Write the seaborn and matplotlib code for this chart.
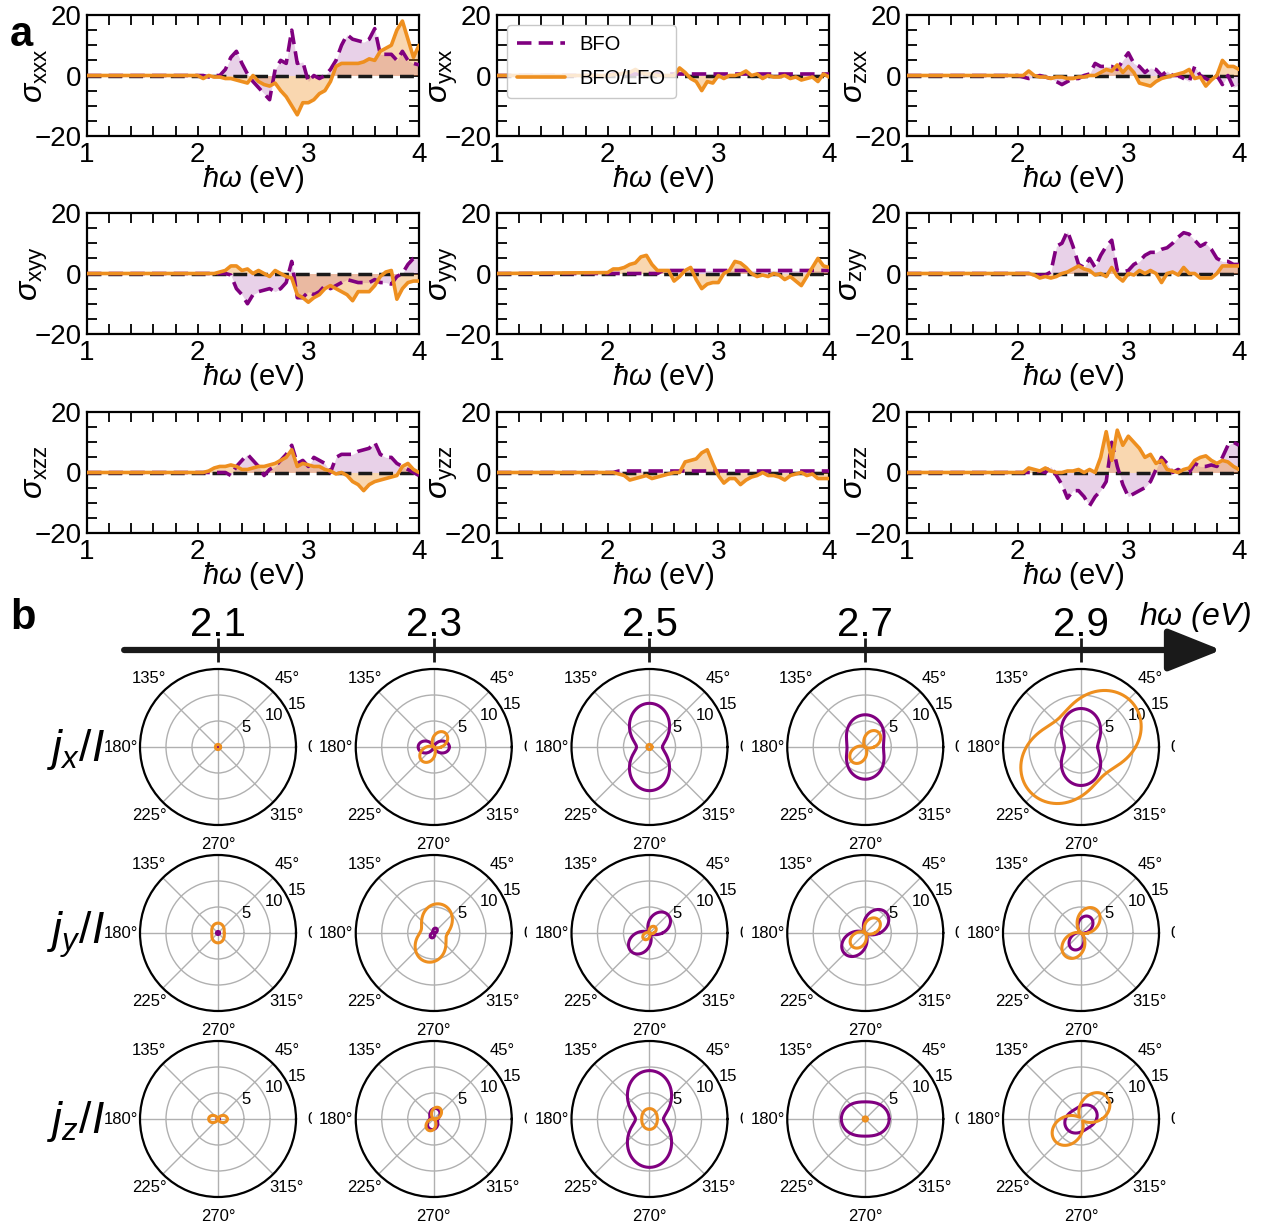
import numpy as np
import matplotlib
matplotlib.use('Agg')
import matplotlib.pyplot as plt
import seaborn as sns
from matplotlib.transforms import Bbox

# ---------------- data: shift-current spectra (panel a) ----------------
# photon energy grid (eV); spectra are flat zero below 2 eV
ENERGY = [1.0] + [round(2.0 + 0.05 * i, 2) for i in range(41)]

XXX_BFO = [0, 0, 0, -0.5, 0, 0, 2, 6, 8, 4, 0.5, -2, -4, -6, -8, 2, 5, 4, 15, 4, 4.5, -2, 0, -1, 0, 2,
           5, 10, 13.5, 12, 11.5, 11, 12, 15.5, 7, 7, 7, 5, 8, 5, 4, 3.5]
XXX_LFO = [0, 0, -1, 0, -0.5, -0.5, -1, -1, -1.5, -2, -2.5, 0, -2, -3, -3.5, -2.5, -5, -7, -10, -13, -9,
           -9, -8, -6, -5, -2, 3, 4, 4, 4, 4, 4.5, 5.5, 5, 8, 9, 10, 15, 18, 12, 6, 10]
YXX_BFO = [0, 0] + [0.5] * 40
YXX_LFO = [0, 0, 0.3, 0.5, 0.8, 1, 2, 1, 0.5, 0.5, 0, 0, 0, 0, 2.5, 1, -1, -2, -5, -2, -2.5, 0, -1, 0,
           0, 0.5, 1.5, 0, 0.5, -1, 0, -0.5, -0.5, 0, -1, -0.5, -1.5, -1, -0.5, -2, 0.5, -0.5]
ZXX_BFO = [0, 0, -0.5, -1, -0.5, 0, -0.5, -1, -2, -3, -2, -1, -1, 0, 0.5, 4, 3, 3, 3, 2, 5, 7.5, 4, 3,
           1, 2.5, 2, 0, 1.5, 0, 0, -1, -2, 3, 0, -1, -2, 0, -3, 0, -4, -3]
ZXX_LFO = [0, 0, 0, 1.5, 0, -0.5, -0.5, -1, -0.5, -0.5, -1, -1, -0.5, -0.5, 0, 0, 1, 2, 1.5, 3.5, 1, 3,
           1, -2.5, -3, -3.5, -2, -1, -0.5, 0, 0.5, 1, 2, -1, -0.5, -3.5, -1.5, 0, 5, 3, 3, 2]
XYY_BFO = [0, 0, 0, 0, 0, 0, 0, -0.5, -5, -7, -10, -7, -6, -5.5, -5, -6, -5, -3, 4, -8, -8, -6, -7, -6,
           -4, -5, -4, -3, -2, -2.5, -3, -3, -3, -2, -3, -3, -3.5, -1, 0, 3, 5, 5.5]
XYY_LFO = [0, 0, 0, 0, 0, 0.5, 1, 2.5, 2.5, 1, 1.5, 0, 1, 0, -1, 1, 0, -1, -1.5, -7, -8, -9.5, -8, -7,
           -5, -4, -5, -6, -7, -9, -6, -6, -6, -4, -1, 0.5, 1, -8.5, -5, -3, -2.5, -2.5]
YYY_BFO = [0] * 11 + [1.0] * 31
YYY_LFO = [0, 0.3, 1.5, 1.5, 2, 3, 3.5, 5.5, 6, 3, 1, 1, 1, -2.5, -1, 1, 2, -2, -5, -3.5, -3, -3, 0, 1,
           4, 3.5, 2, 0, -1, -0.5, -1, 0, -0.5, -2, -1, -2.5, -4, -1, 2, 5, 2.5, 2]
ZYY_BFO = [0, 0, 0, 0, -0.5, -0.5, -0.5, 0.5, 9, 10, 14, 9, 3, 2, 5, 2, 6, 9, 11, 1, 0.5, 1, 3, 4, 6,
           7, 7, 8, 8.5, 10, 12, 13.5, 13, 11, 9, 10, 8, 5, 4, 4, 3, 3]
ZYY_LFO = [0, 0, 0, 0, -0.5, -1.5, -1, -1.5, -1, 0, 0.5, 1.5, 2.5, 1.5, 1, -0.5, 0, -1, 2, -1, -2.5, 0,
           -0.5, 1, 0, 1, 0, -3, 0, 0.5, -0.5, 2, 0, 0, -1.5, -1.5, -1.5, 0, 2.5, 2.5, 2.5, 2.5]
XZZ_BFO = [0, 0, 0, 0, 0, 0, 0, -1, 2, 4, 6, 4, 2, -1, 1, 2, 4, 6, 9, 3, 4, 2, 5, 4, 3, 0, 5, 6, 6, 6,
           7, 7.5, 8, 10, 6, 5, 5, 3, 2, 1, 0, -1]
XZZ_LFO = [0, 0, 0, 0.5, 1.5, 2, 2, 2.5, 2, 1, 1, 1.5, 2, 2, 2.5, 3, 4, 5, 7.5, 2, 3, 2.5, 2, 2, 1,
           0.5, -0.5, 0, -1, -3, -4, -6, -4, -3, -2.5, -2, -1.5, -1, 2, 3, 1, 0]
YZZ_BFO = [0, 0, 0] + [0.5] * 39
YZZ_LFO = [0, 0, 0, -0.5, -1, -2.5, -2, -1.5, -1, -2, -1.5, -1, -0.5, 0, 0, 3.5, 4, 4.5, 6.5, 7.5, 3,
           -1, -3.5, -2, -2, -4, -2.5, -1.5, -1, 0, -1, -1, -1.5, -2.5, -1, -0.5, 0, -1, -0.5, -2, -2, -2]
ZZZ_BFO = [0, 0, 0, 0, 0, 0.5, 0, 2, -1, -4, -8.5, -6, -6, -8, -11, -8, -6, -3, 10, 2, -4, -8, -7, -6,
           -5, -3, 1, 5, 3, 0, 1, 0, 0, 3, 2, 2, 2.5, 2, 5, 9, 10, 9]
ZZZ_LFO = [0, 0, 0, 1.5, 1, 0.5, 1.5, 0.5, 0, 0, 0.5, 0.5, 1, 0, 1, 0, 5, 13.5, 4, 14, 9, 12, 10, 8,
           5, 6, 3, 4, 1, 0.5, 0, 1, 1.5, 4, 5, 5.5, 4, 3, 4, 3.5, 2, 1]

TENSOR_NAMES = ['xxx', 'yxx', 'zxx', 'xyy', 'yyy', 'zyy', 'xzz', 'yzz', 'zzz']
BFO_SERIES = [XXX_BFO, YXX_BFO, ZXX_BFO, XYY_BFO, YYY_BFO, ZYY_BFO, XZZ_BFO, YZZ_BFO, ZZZ_BFO]
LFO_SERIES = [XXX_LFO, YXX_LFO, ZXX_LFO, XYY_LFO, YYY_LFO, ZYY_LFO, XZZ_LFO, YZZ_LFO, ZZZ_LFO]

# ---------------- data: polar photocurrent (panel b) ----------------
# j(theta) = a cos^2 + b sin^2 + c sin(2 theta), one (a, b, c) per photon energy
POLAR_ENERGY = [2.1, 2.3, 2.5, 2.7, 2.9]
JX_BFO = [(0.3, 0.3, 0), (3.0, 0.0, 0), (2.5, 8.4, 0), (3.5, 6.2, 0), (3.2, 7.4, 0)]
JX_LFO = [(0.5, 0.5, 0), (1.45, 2.05, 1.72), (0.5, 0.5, 0), (1.7, 2.1, 1.89), (10.5, 9.5, 3.0)]
JY_BFO = [(0.3, 0.3, 0), (0.3, 0.8, 0.4), (2.5, 2.5, 2.5), (2.8, 2.8, 2.8), (0.8, 2.8, 1.4)]
JY_LFO = [(1.2, 1.9, 0), (2.7, 5.5, 0.8), (0.8, 0.8, 0.8), (1.8, 1.8, 1.8), (1.4, 4.0, 2.35)]
JZ_BFO = [(0.2, 0.2, 0), (0.8, 2.0, 0.3), (2.7, 9.3, 0), (4.6, 3.3, 0), (3.0, 2.5, 0.5)]
JZ_LFO = [(1.8, 0.0, 0), (0.4, 2.0, 0.9), (1.5, 2.0, 0), (0.4, 0.4, 0), (4.0, 3.0, 3.0)]
ROW_LABELS = [r'$j_x/I$', r'$j_y/I$', r'$j_z/I$']

PURPLE = '#800080'
ORANGE = '#EE8F1F'
W, H = 1273, 1228

sns.set_theme(style='ticks')
plt.rcParams.update({
    'font.family': ['Liberation Sans', 'DejaVu Sans'],
    'mathtext.fontset': 'custom',
    'mathtext.rm': 'Liberation Sans',
    'mathtext.it': 'Liberation Sans:italic',
    'mathtext.bf': 'Liberation Sans:bold',
    'text.color': 'black',
    'axes.labelcolor': 'black',
    'axes.edgecolor': 'black',
    'xtick.color': 'black',
    'ytick.color': 'black',
})

fig = plt.figure(figsize=(W / 100, H / 100), dpi=100)


def px_axes(left, top, width, height, **kw):
    return fig.add_axes([left / W, 1 - (top + height) / H, width / W, height / H], **kw)


# ---------------- panel a ----------------
col_left = [87, 497, 907]
row_top = [15, 213, 412]
for k, name in enumerate(TENSOR_NAMES):
    r, c = divmod(k, 3)
    ax = px_axes(col_left[c], row_top[r], 332, 121)
    bfo = np.array(BFO_SERIES[k], dtype=float)
    lfo = np.array(LFO_SERIES[k], dtype=float)
    ax.fill_between(ENERGY, bfo, 0, color=PURPLE, alpha=0.18, lw=0)
    ax.fill_between(ENERGY, lfo, 0, color=ORANGE, alpha=0.35, lw=0)
    ax.axhline(0, color='k', ls=(0, (4, 2)), lw=2.5, zorder=2)
    show_leg = (k == 1)
    sns.lineplot(x=ENERGY, y=bfo, ax=ax, color=PURPLE, lw=2.6, dashes=False,
                 linestyle=(0, (4, 2)), label='BFO' if show_leg else None, legend=False, zorder=3)
    sns.lineplot(x=ENERGY, y=lfo, ax=ax, color=ORANGE, lw=2.6,
                 label='BFO/LFO' if show_leg else None, legend=False, zorder=4)
    ax.set_xlim(1, 4)
    ax.set_ylim(-20, 20)
    ax.set_xticks([1, 2, 3, 4])
    ax.set_xticks(np.arange(1, 4.01, 0.2), minor=True)
    ax.set_yticks([-20, 0, 20])
    ax.set_yticks(np.arange(-20, 20.1, 5), minor=True)
    ax.tick_params(which='both', direction='in', top=True, right=True, length=7, width=1.3,
                   labelsize=20, pad=4)
    for s in ax.spines.values():
        s.set_linewidth(1.6)
    ax.set_xlabel(r'$\hbar\omega$ (eV)', fontsize=21, labelpad=-3)
    ax.set_ylabel(r'$\sigma_{\mathrm{' + name + '}}$', fontsize=23)
    ax.yaxis.set_label_coords(-0.11, 0.5)
    if show_leg:
        ax.legend(loc='upper left', fontsize=14.5, frameon=True, framealpha=0.8,
                  handlelength=2.4, borderpad=0.5, labelspacing=0.75, handletextpad=0.7,
                  bbox_to_anchor=(0.0, 1.0), edgecolor='#bbbbbb', fancybox=True)

fig.text(10 / W, 1 - 35 / H, 'a', fontsize=30, fontweight='bold', va='center')
fig.text(10 / W, 1 - 618 / H, 'b', fontsize=30, fontweight='bold', va='center')

# ---------------- panel b: energy arrow ----------------
E0_PX, PX_PER_EV = 218.0, 1078.75
ax_arr = px_axes(0, 600, W, 100)
ax_arr.set_xlim(2.1 - E0_PX / PX_PER_EV, 2.1 + (W - E0_PX) / PX_PER_EV)
ax_arr.set_ylim(0, 1)
ax_arr.axis('off')
ax_arr.annotate('', xy=(3.03, 0.5), xytext=(2.013, 0.5),
                arrowprops=dict(arrowstyle='-|>,head_length=1.5,head_width=0.6', lw=4.5,
                                color='k', mutation_scale=22, shrinkA=0, shrinkB=0))
ax_arr.vlines(POLAR_ENERGY, 0.38, 0.62, color='k', lw=2)
for e in POLAR_ENERGY:
    ax_arr.text(e, 0.75, f'{e:.1f}', ha='center', va='center', fontsize=29)
ax_arr.text(3.058, 0.83, r'h$\omega$ (eV)', ha='right', va='center', fontsize=23, style='italic')

# ---------------- panel b: polar plots ----------------
THETA = np.linspace(0, 2 * np.pi, 721)


def photocurrent(coef):
    a, b, c = coef
    return np.abs(a * np.cos(THETA) ** 2 + b * np.sin(THETA) ** 2 + c * np.sin(2 * THETA))


row_cy = [747, 933, 1119]
rows = [(JX_BFO, JX_LFO), (JY_BFO, JY_LFO), (JZ_BFO, JZ_LFO)]
polar_axes = []
for r, (bfo_c, lfo_c) in enumerate(rows):
    for c, e in enumerate(POLAR_ENERGY):
        cx = E0_PX + (e - 2.1) * PX_PER_EV
        pax = px_axes(cx - 78, row_cy[r] - 78, 156, 156, projection='polar')
        sns.lineplot(x=THETA, y=photocurrent(bfo_c[c]), ax=pax, sort=False, color=PURPLE,
                     lw=2.2, estimator=None)
        sns.lineplot(x=THETA, y=photocurrent(lfo_c[c]), ax=pax, sort=False, color=ORANGE,
                     lw=2.2, estimator=None)
        pax.set_ylim(0, 15)
        pax.set_yticks([5, 10, 15])
        pax.set_yticklabels(['5', '10', '15'])
        pax.set_rlabel_position(27)
        pax.set_thetagrids([0, 45, 90, 135, 180, 225, 270, 315],
                           labels=['0°', '45°', '', '135°', '180°', '225°', '270°', '315°'])
        pax.tick_params(labelsize=12, pad=1)
        pax.grid(True, color='#b0b0b0', lw=1)
        pax.spines['polar'].set_linewidth(1.6)
        pax.set_xlabel('')
        pax.set_ylabel('')
        polar_axes.append(pax)
    fig.text(76 / W, 1 - (row_cy[r] + 2) / H, ROW_LABELS[r], fontsize=32, ha='center', va='center')

# the 0° labels are cut off by the neighbouring panel in the original
fig.canvas.draw()
for pax in polar_axes:
    for lab in pax.xaxis.get_ticklabels():
        if lab.get_text() == '0°':
            bb = lab.get_window_extent()
            lab.set_clip_box(Bbox.from_extents(bb.x0 - 5, bb.y0 - 5, bb.x0 + 4, bb.y1 + 5))
            lab.set_clip_on(True)

fig.savefig('out.png', dpi=100)
